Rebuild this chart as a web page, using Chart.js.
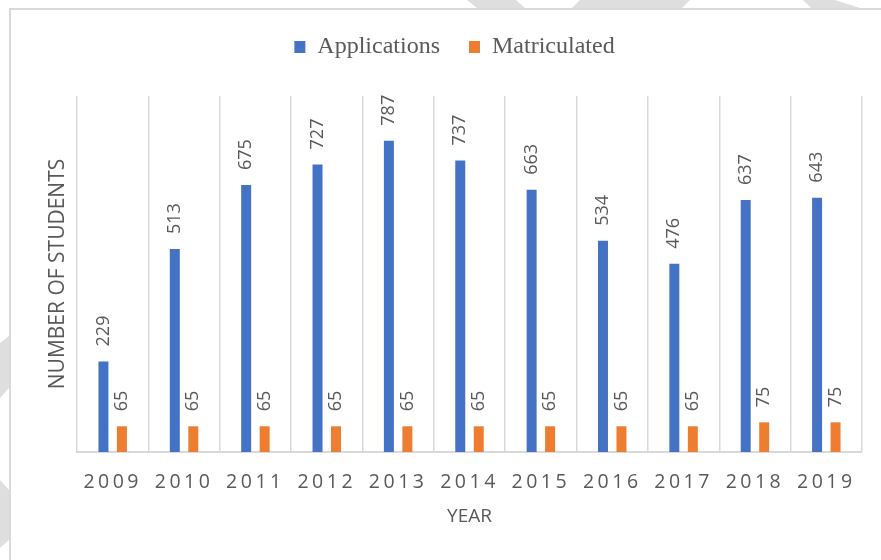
<!DOCTYPE html>
<html>
<head>
<meta charset="utf-8">
<script src="https://cdn.jsdelivr.net/npm/chart.js@4.4.0/dist/chart.umd.min.js"></script>
<style>
  html, body { margin: 0; padding: 0; background: #ffffff; }
  #wrap { position: relative; width: 881px; height: 560px; }
</style>
</head>
<body>
<div id="wrap"><canvas id="chart"></canvas></div>
<script>
// Admissions per year
const years = ['2009', '2010', '2011', '2012', '2013', '2014', '2015', '2016', '2017', '2018', '2019'];
const applications = [229, 513, 675, 727, 787, 737, 663, 534, 476, 637, 643];
const matriculated = [65, 65, 65, 65, 65, 65, 65, 65, 65, 75, 75];
const seriesNames = ['Applications', 'Matriculated'];
const axisTitles = { x: 'YEAR', y: 'NUMBER OF STUDENTS' };
const yRange = { min: 0, max: 900 };

const GREY_TEXT = '#595959';
const GRID = '#d9d9d9';

// Page backdrop: faint diagonal bands behind a white, bordered chart frame
const backdrop = {
  id: 'backdrop',
  beforeDraw(chart) {
    const { ctx, width, height } = chart;
    ctx.save();
    ctx.fillStyle = '#dedede';
    const bands = [
      [[467, 0], [516, 0], [525, 8], [477, 8]],
      [[580, 0], [690, 0], [682, 8], [572, 8]],
      [[803, 0], [835, 0], [860, 8], [811, 8]],
      [[0, 343], [9, 336], [9, 388], [0, 398]],
      [[0, 480], [9, 490], [9, 540], [0, 548]]
    ];
    bands.forEach(pts => {
      ctx.beginPath();
      ctx.moveTo(pts[0][0], pts[0][1]);
      pts.slice(1).forEach(p => ctx.lineTo(p[0], p[1]));
      ctx.closePath();
      ctx.fill();
    });
    ctx.fillStyle = '#ffffff';
    ctx.fillRect(9, 8, width - 9, height - 8);
    ctx.strokeStyle = GRID;
    ctx.lineWidth = 2;
    ctx.beginPath();
    ctx.moveTo(10, height);
    ctx.lineTo(10, 9);
    ctx.lineTo(width, 9);
    ctx.stroke();
    ctx.restore();
  }
};

// Extra room between the legend and the plot area
const legendGap = {
  id: 'legendGap',
  beforeInit(chart) {
    const fit = chart.legend.fit;
    chart.legend.fit = function () {
      fit.call(this);
      this.height = 90;
    };
  }
};

// Rotated value labels above each bar
const valueLabels = {
  id: 'valueLabels',
  afterDatasetsDraw(chart) {
    const { ctx } = chart;
    ctx.save();
    ctx.font = '18px "Open Sans"';
    ctx.fillStyle = GREY_TEXT;
    ctx.textAlign = 'left';
    ctx.textBaseline = 'middle';
    chart.data.datasets.forEach((ds, i) => {
      chart.getDatasetMeta(i).data.forEach((bar, j) => {
        ctx.save();
        ctx.translate(bar.x, bar.y - 15);
        ctx.rotate(-Math.PI / 2);
        ctx.fillText(String(ds.data[j]), 0, 0);
        ctx.restore();
      });
    });
    ctx.restore();
  }
};

// Letter-spaced year labels under the category axis
const yearTicks = {
  id: 'yearTicks',
  afterDraw(chart) {
    const { ctx } = chart;
    const xs = chart.scales.x;
    ctx.save();
    ctx.font = '19.5px "Open Sans"';
    ctx.fillStyle = GREY_TEXT;
    ctx.textAlign = 'center';
    ctx.textBaseline = 'middle';
    ctx.letterSpacing = '3.5px';
    chart.data.labels.forEach((label, i) => {
      ctx.fillText(label, xs.getPixelForValue(i), xs.top + 30);
    });
    ctx.restore();
  }
};

new Chart(document.getElementById('chart'), {
  type: 'bar',
  data: {
    labels: years,
    datasets: [
      {
        label: seriesNames[0],
        data: applications,
        backgroundColor: '#4472C4',
        borderWidth: 0,
        categoryPercentage: 0.518,
        barPercentage: 0.54
      },
      {
        label: seriesNames[1],
        data: matriculated,
        backgroundColor: '#ED7D31',
        borderWidth: 0,
        categoryPercentage: 0.518,
        barPercentage: 0.54
      }
    ]
  },
  options: {
    responsive: true,
    maintainAspectRatio: false,
    animation: false,
    layout: { padding: { left: 47, right: 19, top: 6, bottom: 27.6 } },
    plugins: {
      legend: {
        position: 'top',
        align: 'center',
        labels: {
          font: { family: '"Liberation Serif", "Times New Roman", serif', size: 24 },
          color: GREY_TEXT,
          boxWidth: 11,
          boxHeight: 12,
          padding: 29
        }
      },
      tooltip: { enabled: false }
    },
    scales: {
      x: {
        offset: true,
        grid: { display: true, offset: true, color: GRID, lineWidth: 1.5, drawTicks: false },
        border: { display: true, color: GRID, width: 2 },
        ticks: { display: false },
        title: {
          display: true,
          text: axisTitles.x,
          color: GREY_TEXT,
          font: { family: '"Open Sans"', size: 19 },
          padding: { top: 53.6, bottom: 4 }
        }
      },
      y: {
        min: yRange.min,
        max: yRange.max,
        grid: { display: false, drawTicks: false },
        border: { display: false },
        ticks: { display: false },
        title: {
          display: true,
          text: axisTitles.y,
          color: GREY_TEXT,
          font: { family: '"Open Sans"', size: 21 },
          padding: { top: -1.6, bottom: 6.4 }
        }
      }
    }
  },
  plugins: [backdrop, legendGap, valueLabels, yearTicks]
});
</script>
</body>
</html>
